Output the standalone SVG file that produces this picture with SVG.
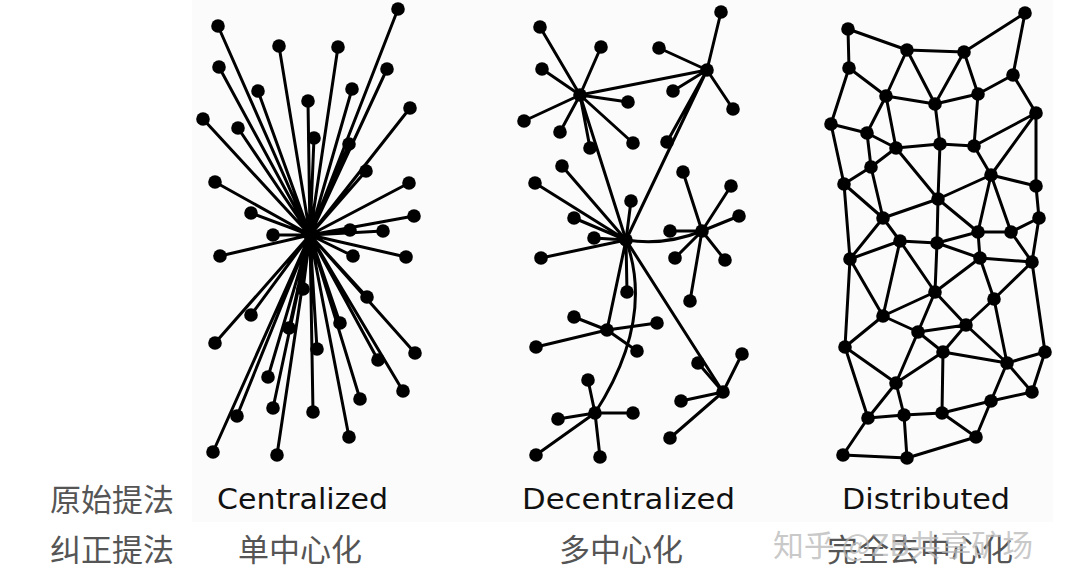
<svg xmlns="http://www.w3.org/2000/svg" width="1076" height="587" viewBox="0 0 1076 587">
<style>
.e{stroke:#000;stroke-width:3;fill:none;stroke-linecap:round}
.n{fill:#000}
.n circle{r:6.8px}
.en{font-family:"DejaVu Sans","Liberation Sans",sans-serif;font-size:28px;fill:#111}
.zh{font-family:"Noto Sans CJK SC","Noto Sans",sans-serif;font-size:31px;fill:#555}
.wm{font-family:"Noto Sans CJK SC","Noto Sans",sans-serif;font-size:30px;fill:#b8b8b8;fill-opacity:0.75}
</style>
<rect width="1076" height="587" fill="#fff"/>
<rect x="192" y="0" width="861" height="522" fill="#fbfbfb"/>

<g id="connectors">
<g id="c-edges" class="e">
<path d="M310,235L218,26M310,235L398,9M310,235L279,46M310,235L338,47M310,235L219,67M310,235L387,69M310,235L258,91M310,235L352,89M310,235L308,101M310,235L410,108M310,235L203,119M310,235L238,128M310,235L314,138M310,235L349,144M310,235L366,171M310,235L215,182M310,235L409,183M310,235L251,213M310,235L414,216M310,235L273,235M310,235L350,230M310,235L383,231M310,235L220,256M310,235L353,256M310,235L406,257M310,235L367,297M310,235L251,315M310,235L340,323M310,235L215,343M310,235L289,328M310,235L303,289M310,235L317,349M310,235L415,353M310,235L378,360M310,235L268,377M310,235L403,391M310,235L360,399M310,235L273,408M310,235L313,412M310,235L237,416M310,235L349,437M310,235L213,452M310,235L277,455"/>
</g>
<g id="d-edges" class="e">
<path d="M580,95L540,27M580,95L601,47M580,95L542,69M580,95L628,102M580,95L524,121M580,95L560,132M580,95L590,148M580,95L633,143M580,95L707,70M580,95L626,240"/>
<path d="M707,70L721,12M707,70L659,48M707,70L673,91M707,70L733,109M707,70L667,142M707,70L626,240"/>
<path d="M626,240L535,183M626,240L562,166M626,240L574,218M626,240L594,238M626,240L631,201M626,240L541,258M626,240L627,292M626,240L607,330M626,240L723,392"/>
<path d="M626,240Q665,246 702,231"/>
<path d="M626,240Q655,320 595,413"/>
<path d="M702,231L683,172M702,231L731,186M702,231L739,216M702,231L670,231M702,231L675,258M702,231L725,260M702,231L690,301"/>
<path d="M607,330L574,317M607,330L657,323M607,330L536,347M607,330L637,351"/>
<path d="M723,392L742,354M723,392L698,363M723,392L681,401M723,392L670,438"/>
<path d="M595,413L588,380M595,413L633,413M595,413L558,419M595,413L536,455M595,413L600,457"/>
</g>
<g id="m-edges" class="e">
<path d="M848,29L907,50M848,29L849,68M907,50L964,52M964,52L1025,13M1025,13L1013,75M907,50L886,96M907,50L935,104M964,52L935,104M964,52L978,94M1013,75L978,94M1013,75L1036,113M849,68L886,96M849,68L831,124M886,96L935,104M978,94L935,104M886,96L867,133M886,96L896,148M935,104L940,144M978,94L974,146M1036,113L974,146M1036,113L991,175M1036,113L1036,186M831,124L867,133M831,124L844,184M867,133L896,148M940,144L974,146M896,148L940,144M867,133L871,167M896,148L871,167M896,148L938,199M940,144L938,199M974,146L991,175M871,167L844,184M871,167L883,218M844,184L883,218M844,184L850,259M991,175L938,199M991,175L1036,186M991,175L978,232M991,175L1011,232M1036,186L1039,218M938,199L883,218M938,199L978,232M938,199L937,243M883,218L900,241M883,218L850,259M1039,218L1011,232M1039,218L1032,262M978,232L1011,232"/>
<path d="M900,241L937,243M850,259L900,241M850,259L845,347M850,259L883,316M900,241L883,316M900,241L935,292M937,243L935,292M937,243L980,258M937,243L978,232M978,232L980,258M1011,232L1032,262M980,258L1032,262M980,258L935,292M980,258L994,299M1032,262L994,299M1032,262L1045,352M935,292L883,316M935,292L918,332M935,292L966,325M994,299L966,325M994,299L1007,363M883,316L918,332M883,316L845,347M918,332L966,325M918,332L943,352M918,332L896,383M966,325L943,352M966,325L1007,363M845,347L896,383M845,347L868,418M943,352L896,383M943,352L1007,363M943,352L942,413M1045,352L1007,363M1045,352L1032,392M1007,363L1032,392M1007,363L991,401M896,383L868,418M896,383L904,415M1032,392L991,401M991,401L942,413M991,401L976,437M868,418L904,415M904,415L942,413M942,413L976,437M868,418L843,455M904,415L907,458M843,455L907,458M907,458L976,437"/>
</g>
</g>

<g id="centralized-nodes" class="n">
<circle id="c-hub" cx="310" cy="235" r="7"/>
<circle cx="218" cy="26" r="6.8"/><circle cx="398" cy="9" r="6.8"/><circle cx="279" cy="46" r="6.8"/><circle cx="338" cy="47" r="6.8"/><circle cx="219" cy="67" r="6.8"/><circle cx="387" cy="69" r="6.8"/><circle cx="258" cy="91" r="6.8"/><circle cx="352" cy="89" r="6.8"/><circle cx="308" cy="101" r="6.8"/><circle cx="410" cy="108" r="6.8"/><circle cx="203" cy="119" r="6.8"/><circle cx="238" cy="128" r="6.8"/><circle cx="314" cy="138" r="6.8"/><circle cx="349" cy="144" r="6.8"/><circle cx="366" cy="171" r="6.8"/><circle cx="215" cy="182" r="6.8"/><circle cx="409" cy="183" r="6.8"/><circle cx="251" cy="213" r="6.8"/><circle cx="414" cy="216" r="6.8"/><circle cx="273" cy="235" r="6.8"/><circle cx="350" cy="230" r="6.8"/><circle cx="383" cy="231" r="6.8"/><circle cx="220" cy="256" r="6.8"/><circle cx="353" cy="256" r="6.8"/><circle cx="406" cy="257" r="6.8"/><circle cx="367" cy="297" r="6.8"/><circle cx="251" cy="315" r="6.8"/><circle cx="340" cy="323" r="6.8"/><circle cx="215" cy="343" r="6.8"/><circle cx="289" cy="328" r="6.8"/><circle cx="303" cy="289" r="6.8"/><circle cx="317" cy="349" r="6.8"/><circle cx="415" cy="353" r="6.8"/><circle cx="378" cy="360" r="6.8"/><circle cx="268" cy="377" r="6.8"/><circle cx="403" cy="391" r="6.8"/><circle cx="360" cy="399" r="6.8"/><circle cx="273" cy="408" r="6.8"/><circle cx="313" cy="412" r="6.8"/><circle cx="237" cy="416" r="6.8"/><circle cx="349" cy="437" r="6.8"/><circle cx="213" cy="452" r="6.8"/><circle cx="277" cy="455" r="6.8"/>
</g>

<g id="decentralized-nodes" class="n">
<circle id="d-hubA" cx="580" cy="95" r="6"/><circle id="d-hubB" cx="707" cy="70" r="6.5"/><circle id="d-hubD" cx="626" cy="240" r="6.5"/><circle id="d-hubC" cx="702" cy="231" r="6.5"/><circle id="d-hubE" cx="607" cy="330" r="6.5"/><circle id="d-hubF" cx="723" cy="392" r="6.5"/><circle id="d-hubG" cx="595" cy="413" r="6.5"/>
<circle cx="540" cy="27" r="6.8"/><circle cx="601" cy="47" r="6.8"/><circle cx="542" cy="69" r="6.8"/><circle cx="628" cy="102" r="6.8"/><circle cx="524" cy="121" r="6.8"/><circle cx="560" cy="132" r="6.8"/><circle cx="590" cy="148" r="6.8"/><circle cx="633" cy="143" r="6.8"/>
<circle cx="721" cy="12" r="6.8"/><circle cx="659" cy="48" r="6.8"/><circle cx="673" cy="91" r="6.8"/><circle cx="733" cy="109" r="6.8"/><circle cx="667" cy="142" r="6.8"/>
<circle cx="535" cy="183" r="6.8"/><circle cx="562" cy="166" r="6.8"/><circle cx="574" cy="218" r="6.8"/><circle cx="594" cy="238" r="6.8"/><circle cx="631" cy="201" r="6.8"/><circle cx="541" cy="258" r="6.8"/><circle cx="627" cy="292" r="6.8"/>
<circle cx="683" cy="172" r="6.8"/><circle cx="731" cy="186" r="6.8"/><circle cx="739" cy="216" r="6.8"/><circle cx="670" cy="231" r="6.8"/><circle cx="675" cy="258" r="6.8"/><circle cx="725" cy="260" r="6.8"/><circle cx="690" cy="301" r="6.8"/>
<circle cx="574" cy="317" r="6.8"/><circle cx="657" cy="323" r="6.8"/><circle cx="536" cy="347" r="6.8"/><circle cx="637" cy="351" r="6.8"/>
<circle cx="742" cy="354" r="6.8"/><circle cx="698" cy="363" r="6.8"/><circle cx="681" cy="401" r="6.8"/><circle cx="670" cy="438" r="6.8"/>
<circle cx="588" cy="380" r="6.8"/><circle cx="633" cy="413" r="6.8"/><circle cx="558" cy="419" r="6.8"/><circle cx="536" cy="455" r="6.8"/><circle cx="600" cy="457" r="6.8"/>
</g>

<g id="distributed-nodes" class="n">
<circle cx="848" cy="29" r="6.8"/><circle cx="1025" cy="13" r="6.8"/><circle cx="907" cy="50" r="6.8"/><circle cx="964" cy="52" r="6.8"/><circle cx="849" cy="68" r="6.8"/><circle cx="1013" cy="75" r="6.8"/><circle cx="886" cy="96" r="6.8"/><circle cx="978" cy="94" r="6.8"/><circle cx="935" cy="104" r="6.8"/><circle cx="1036" cy="113" r="6.8"/><circle cx="831" cy="124" r="6.8"/><circle cx="867" cy="133" r="6.8"/><circle cx="896" cy="148" r="6.8"/><circle cx="940" cy="144" r="6.8"/><circle cx="974" cy="146" r="6.8"/><circle cx="871" cy="167" r="6.8"/><circle cx="991" cy="175" r="6.8"/><circle cx="844" cy="184" r="6.8"/><circle cx="1036" cy="186" r="6.8"/><circle cx="938" cy="199" r="6.8"/><circle cx="883" cy="218" r="6.8"/><circle cx="1039" cy="218" r="6.8"/><circle cx="978" cy="232" r="6.8"/><circle cx="1011" cy="232" r="6.8"/><circle cx="900" cy="241" r="6.8"/><circle cx="937" cy="243" r="6.8"/><circle cx="850" cy="259" r="6.8"/><circle cx="980" cy="258" r="6.8"/><circle cx="1032" cy="262" r="6.8"/><circle cx="935" cy="292" r="6.8"/><circle cx="994" cy="299" r="6.8"/><circle cx="883" cy="316" r="6.8"/><circle cx="918" cy="332" r="6.8"/><circle cx="966" cy="325" r="6.8"/><circle cx="845" cy="347" r="6.8"/><circle cx="943" cy="352" r="6.8"/><circle cx="1045" cy="352" r="6.8"/><circle cx="1007" cy="363" r="6.8"/><circle cx="896" cy="383" r="6.8"/><circle cx="1032" cy="392" r="6.8"/><circle cx="991" cy="401" r="6.8"/><circle cx="868" cy="418" r="6.8"/><circle cx="904" cy="415" r="6.8"/><circle cx="942" cy="413" r="6.8"/><circle cx="976" cy="437" r="6.8"/><circle cx="843" cy="455" r="6.8"/><circle cx="907" cy="458" r="6.8"/>
</g>

<g id="labels">
<text class="zh" x="112" y="511" text-anchor="middle">原始提法</text>
<text class="zh" x="112" y="561" text-anchor="middle">纠正提法</text>
<text class="en" x="217" y="509" textLength="171" lengthAdjust="spacingAndGlyphs">Centralized</text>
<text class="en" x="522" y="509" textLength="213" lengthAdjust="spacingAndGlyphs">Decentralized</text>
<text class="en" x="842" y="509" textLength="168" lengthAdjust="spacingAndGlyphs">Distributed</text>
<text class="zh" x="300" y="561" text-anchor="middle">单中心化</text>
<text class="zh" x="621" y="561" text-anchor="middle">多中心化</text>
<text class="zh" x="920" y="561" text-anchor="middle">完全去中心化</text>
<text class="wm" x="773" y="556" textLength="260" lengthAdjust="spacingAndGlyphs">知乎 @ZB共享矿场</text>
</g>
</svg>
